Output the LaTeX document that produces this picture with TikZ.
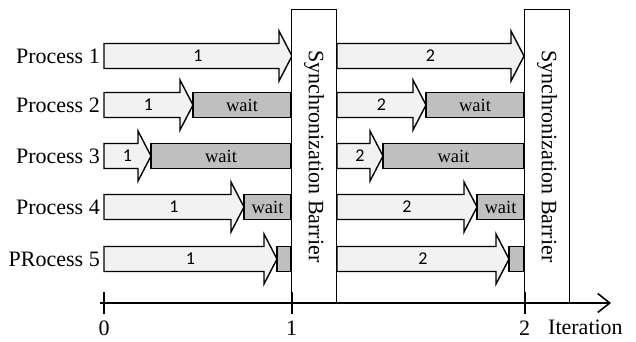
\documentclass[tikz,border=0pt]{standalone}
\usepackage{fontspec}
\setmainfont{Liberation Serif}
\newfontfamily\digitfont{Carlito}
\usetikzlibrary{arrows.meta}

\definecolor{workgray}{HTML}{F2F2F2}
\definecolor{waitgray}{HTML}{BFBFBF}

% block arrow for one work step: name, start x, tip x, centre y, label
\newcommand{\workarrow}[5]{%
  \draw[work] (#2,{#4-12.5}) -- ({#3-13},{#4-12.5}) -- ({#3-13},{#4-25})
    -- (#3,#4) -- ({#3-13},{#4+25}) -- ({#3-13},{#4+12.5}) -- (#2,{#4+12.5}) -- cycle;
  \node[steplabel] (#1) at ({(#2+#3)/2},#4) {#5};
}
% grey waiting block: name, start x, end x, centre y, label
\newcommand{\waitblock}[5]{%
  \draw[waitbox] (#2,{#4-12.5}) rectangle (#3,{#4+12.5});
  \node[waitlabel] (#1) at ({(#2+#3)/2},#4) {#5};
}

\begin{document}
\begin{tikzpicture}[x=1pt,y=-1pt,
  work/.style={draw=black, line width=1.4pt, fill=workgray, line join=miter},
  waitbox/.style={draw=black, line width=1.4pt, fill=waitgray},
  steplabel/.style={inner sep=0pt, font=\digitfont\fontsize{18}{20}\selectfont},
  waitlabel/.style={inner sep=0pt, font=\fontsize{18.5}{20}\selectfont},
  proc/.style={anchor=east, inner sep=0pt, font=\fontsize{22}{24}\selectfont},
  barrier/.style={draw=black, line width=0.8pt, fill=white, rotate=-90,
    minimum width=294pt, minimum height=45pt, inner sep=0pt,
    font=\fontsize{22}{24}\selectfont},
  ticklabel/.style={inner sep=0pt, font=\fontsize{22}{24}\selectfont},
  tick/.style={line width=1.8pt}
]
\useasboundingbox (0,0) rectangle (636,341);

% process names
\node[proc] (p1) at (100,56) {Process 1};
\node[proc] (p2) at (100,105) {Process 2};
\node[proc] (p3) at (100,156) {Process 3};
\node[proc] (p4) at (100,207) {Process 4};
\node[proc] (p5) at (100,259) {PRocess 5};

% first iteration
\workarrow{a11}{104}{292}{56}{1}
\workarrow{a21}{104}{193}{105}{1}
\waitblock{w21}{193}{291}{105}{wait}
\workarrow{a31}{104}{151}{156}{1}
\waitblock{w31}{151}{291}{156}{wait}
\workarrow{a41}{104}{244}{207}{1}
\waitblock{w41}{244}{291}{207}{wait}
\workarrow{a51}{104}{277}{259}{1}
\waitblock{w51}{277}{291}{259}{}

% second iteration
\workarrow{a12}{337}{524}{56}{2}
\workarrow{a22}{337}{426}{105}{2}
\waitblock{w22}{426}{524}{105}{wait}
\workarrow{a32}{337}{383}{156}{2}
\waitblock{w32}{383}{524}{156}{wait}
\workarrow{a42}{337}{477}{207}{2}
\waitblock{w42}{477}{524}{207}{wait}
\workarrow{a52}{337}{509}{259}{2}
\waitblock{w52}{509}{524}{259}{}

% synchronization barriers
\node[barrier] (b1) at (314.2,156.3) {Synchronization Barrier};
\node[barrier] (b2) at (547.2,156.3) {Synchronization Barrier};

% iteration axis
\coordinate (ax0) at (100,303);
\coordinate (ax1) at (611,303);
\draw[line width=1.8pt, -{Straight Barb[length=12pt,width=19pt,line width=1.6pt]}] (ax0) -- (ax1);
\foreach \x/\t in {104/0, 291.7/1, 524.7/2} {
  \draw[tick] (\x,292) -- (\x,314);
  \node[ticklabel] (t\t) at (\x,328) {\t};
}
\node[ticklabel, anchor=west] (itlabel) at (548,327) {Iteration};
\end{tikzpicture}
\end{document}
